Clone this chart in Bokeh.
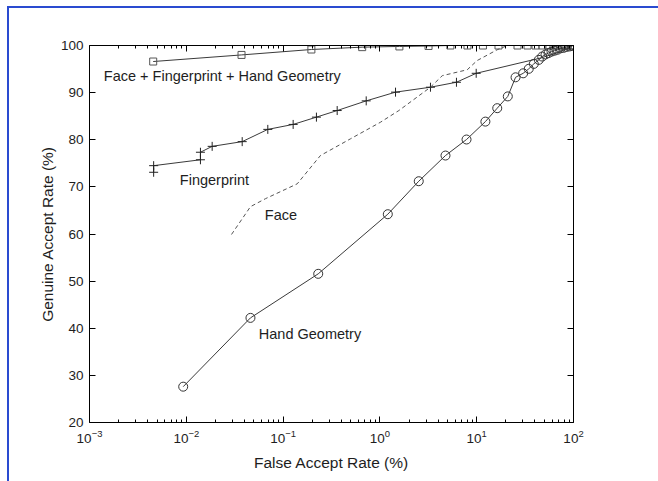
from bokeh.plotting import figure
from bokeh.models import (FixedTicker, LinearAxis, LogAxis, LogTickFormatter,
                          Label, Range1d)
from bokeh.embed import file_html
from bokeh.resources import INLINE

# ROC data: false accept rate (%) vs genuine accept rate (%)
fused_far = [0.00455, 0.0372, 0.196, 0.656, 1.59, 3.18, 5.35, 8.03, 11.6, 16.8,
             26.4, 33.5, 40.5, 47.8, 55.2, 62.1, 68.3, 75.1, 80.8, 86.7, 93.1, 98.9]
fused_gar = [96.6, 98.0, 99.15, 99.65, 99.8, 99.9, 100, 100, 100, 100,
             100, 100, 100, 100, 100, 100, 100, 100, 100, 100, 100, 100]

fp_far = [0.0046, 0.0046, 0.0140, 0.0140, 0.0185, 0.0378, 0.0695, 0.127, 0.221,
          0.362, 0.722, 1.45, 3.33, 6.18, 9.88, 47.0, 70.0, 90.0]
fp_gar = [73.1, 74.5, 75.75, 77.35, 78.6, 79.6, 82.2, 83.25, 84.8,
          86.2, 88.25, 90.1, 91.15, 92.2, 94.1, 97.4, 98.6, 99.5]

face_far = [0.0293, 0.046, 0.0658, 0.14, 0.243, 0.497, 1.01, 1.57, 3.33, 4.41,
            7.98, 10.1, 16.3, 20.7, 100]
face_gar = [59.9, 65.8, 67.5, 70.65, 76.65, 80.2, 83.7, 86.2, 91.15, 93.6,
            94.85, 96.8, 99.1, 100, 100]

hand_far = [0.00929, 0.046, 0.2306, 1.207, 2.52, 4.76, 7.85, 12.3, 16.3, 20.96,
            25.2, 30.2, 34.5, 38.9, 43.8, 47.5, 51.4, 55.2, 59.3, 63.7, 68.4,
            73.5, 78.9, 84.7, 91.0, 97.7]
hand_gar = [27.6, 42.2, 51.55, 64.2, 71.2, 76.65, 80.05, 83.85, 86.7, 89.2,
            93.25, 94.1, 95.05, 96.1, 96.95, 97.65, 98.1, 98.4, 98.7, 98.9, 99.1,
            99.4, 99.5, 99.7, 99.8, 99.9]

x_major = [0.001, 0.01, 0.1, 1, 10, 100]
x_minor = [k * 10.0 ** d for d in range(-3, 2) for k in range(2, 10)]
y_major = [20, 30, 40, 50, 60, 70, 80, 90, 100]

FONT = "Liberation Sans"
INK = "#1e1e1e"
LINE = "#3a3a3a"
FRAME_BLUE = "#2a4bd0"

p = figure(x_axis_type="log", x_range=Range1d(0.001, 100), y_range=Range1d(20, 100),
           frame_width=484, frame_height=377,
           min_border_left=80, min_border_right=85, min_border_top=37, min_border_bottom=59,
           output_backend="svg", toolbar_location=None,
           background_fill_color="white", border_fill_color="white")
p.outline_line_color = None
p.grid.visible = False
# thin blue page rule along the top and left edges
p.styles = {"margin-left": "7px", "margin-top": "6px",
            "border-left": f"2px solid {FRAME_BLUE}",
            "border-top": f"2px solid {FRAME_BLUE}"}

xticker = FixedTicker(ticks=x_major, minor_ticks=x_minor)
yticker = FixedTicker(ticks=y_major)


def style_axis(ax, labels=True):
    ax.axis_line_color = "black"
    ax.axis_line_width = 1
    ax.major_tick_in = 6
    ax.major_tick_out = 0
    ax.minor_tick_in = 3
    ax.minor_tick_out = 0
    ax.major_tick_line_color = "black"
    ax.minor_tick_line_color = "black"
    ax.major_label_text_font = FONT
    ax.major_label_text_font_size = "13.5px"
    ax.major_label_text_color = INK if labels else None
    ax.axis_label_text_font = FONT
    ax.axis_label_text_font_style = "normal"
    ax.axis_label_text_font_size = "15.5px"
    ax.axis_label_text_color = INK


xa = p.xaxis[0]
xa.ticker = xticker
xa.formatter = LogTickFormatter()
style_axis(xa)
xa.major_label_standoff = 7
xa.axis_label = "False Accept Rate (%)"
xa.axis_label_standoff = 8

ya = p.yaxis[0]
ya.ticker = yticker
style_axis(ya)
ya.major_label_standoff = 6
ya.axis_label = "Genuine Accept Rate (%)"
ya.axis_label_standoff = 2

top = LogAxis(ticker=xticker, formatter=LogTickFormatter())
style_axis(top, labels=False)
p.add_layout(top, "above")

right = LinearAxis(ticker=yticker)
style_axis(right, labels=False)
p.add_layout(right, "right")

# Curves
p.line(fused_far, fused_gar, line_color=LINE, line_width=1)
p.scatter(fused_far, fused_gar, marker="square", size=7, fill_color=None,
          line_color="#555555", line_width=1)

p.line(fp_far, fp_gar, line_color=LINE, line_width=1)
p.scatter(fp_far[:15], fp_gar[:15], marker="cross", size=9, line_color="#222222", line_width=1)

p.line(face_far, face_gar, line_color="#555555", line_width=1, line_dash="4 3")

p.line(hand_far, hand_gar, line_color=LINE, line_width=1)
p.scatter(hand_far, hand_gar, marker="circle", size=9, fill_color=None,
          line_color="#333333", line_width=1)

# Curve labels
for txt, x, y in [("Face + Fingerprint + Hand Geometry", 0.001406, 93.5),
                  ("Fingerprint", 0.00857, 71.5),
                  ("Face", 0.0647, 64.1),
                  ("Hand Geometry", 0.0561, 38.8)]:
    p.add_layout(Label(x=x, y=y, text=txt, text_font=FONT, text_font_size="14.5px",
                       text_color=INK, text_baseline="middle", text_align="left"))

open("out.html", "w").write(file_html(p, INLINE))
